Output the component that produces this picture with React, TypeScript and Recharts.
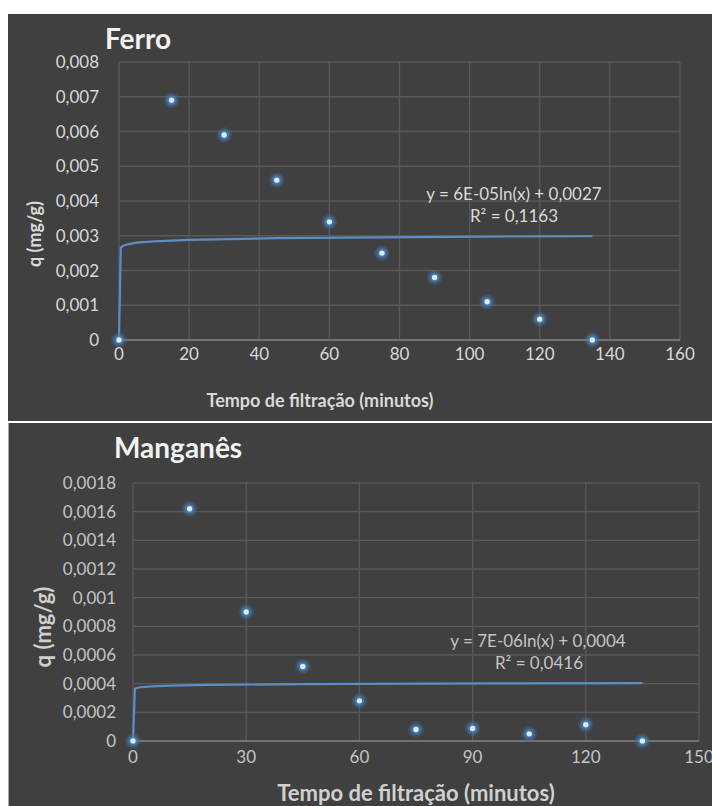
import { ComposedChart, Scatter, Line, XAxis, YAxis, CartesianGrid } from "recharts"

// tempo de filtração (min)
const tempo = [0, 15, 30, 45, 60, 75, 90, 105, 120, 135]

// q (mg/g) medido
const qFerro = [0, 0.0069, 0.0059, 0.0046, 0.0034, 0.0025, 0.0018, 0.0011, 0.0006, 0]
const qManganes = [0, 0.00162, 0.0009, 0.00052, 0.00028, 0.00008, 0.000087, 0.00005, 0.000114, 0]

// linha de tendência logarítmica
const tendX = [0, 0.5, 1, 2, 5, 10, 20, 45, 95, 135]
const tendFerro = [0, 0.00266, 0.0027, 0.00274, 0.0028, 0.00284, 0.00288, 0.00293, 0.00297, 0.00299]
const tendManganes = [0, 0.000365, 0.00037, 0.000375, 0.000381, 0.000386, 0.000391, 0.000397, 0.000402, 0.000404]

const ticksXFerro = [0, 20, 40, 60, 80, 100, 120, 140, 160]
const ticksYFerro = [0, 0.001, 0.002, 0.003, 0.004, 0.005, 0.006, 0.007, 0.008]
const ticksXManganes = [0, 30, 60, 90, 120, 150]
const ticksYManganes = [0, 0.0002, 0.0004, 0.0006, 0.0008, 0.001, 0.0012, 0.0014, 0.0016, 0.0018]

const toPoints = (xs: number[], ys: number[]) => xs.map((x, i) => ({ x, y: ys[i] }))

const BG = "#404040"
const GRID = "#595959"
const LINE = "#5b8ec4"
const FONT = "Lato, 'Open Sans', sans-serif"

const virgula = (v: number) => String(v).replace(".", ",")

// marcador com brilho azul (anéis translúcidos + ponto claro)
const Ponto = (props: any) => {
  const { cx, cy } = props
  if (cx == null || cy == null) return null
  return (
    <g>
      <circle cx={cx} cy={cy} r={8} fill="#3d6fa3" fillOpacity={0.25} />
      <circle cx={cx} cy={cy} r={6.5} fill="#4479b0" fillOpacity={0.35} />
      <circle cx={cx} cy={cy} r={4.8} fill="#5089c2" fillOpacity={0.5} />
      <circle cx={cx} cy={cy} r={2.7} fill="#d8ebfc" />
    </g>
  )
}

const Texto = ({ x, y, size, color, weight = 400, rotate = false, align = "center", children }: any) => (
  <div
    style={{
      position: "absolute",
      left: x,
      top: y,
      transform: `translate(${align === "left" ? "0" : "-50%"}, -50%)${rotate ? " rotate(-90deg)" : ""}`,
      fontFamily: FONT,
      fontSize: size,
      fontWeight: weight,
      color,
      lineHeight: 1,
      whiteSpace: "nowrap",
    }}
  >
    {children}
  </div>
)

const Grafico = ({ width, height, margin, pontos, tendencia, ticksX, ticksY, xMax, yMax, yWidth, xGap, yGap, tickColor }: any) => (
  <ComposedChart width={width} height={height} margin={margin}>
    <CartesianGrid stroke={GRID} strokeWidth={1.3} />
    <XAxis
      type="number"
      dataKey="x"
      domain={[0, xMax]}
      ticks={ticksX}
      interval={0}
      height={30}
      tickLine={false}
      tickSize={0}
      tickMargin={xGap}
      axisLine={{ stroke: "#7f7f7f", strokeWidth: 1.5 }}
      tick={{ fill: tickColor, fontSize: 17, fontFamily: FONT }}
    />
    <YAxis
      type="number"
      dataKey="y"
      domain={[0, yMax]}
      ticks={ticksY}
      interval={0}
      width={yWidth}
      tickLine={false}
      axisLine={false}
      tickSize={0}
      tickMargin={yGap}
      tickFormatter={virgula}
      tick={{ fill: tickColor, fontSize: 17, fontFamily: FONT }}
    />
    <Line
      data={tendencia}
      dataKey="y"
      type="linear"
      stroke={LINE}
      strokeWidth={2.2}
      dot={false}
      activeDot={false}
      isAnimationActive={false}
    />
    <Scatter data={pontos} dataKey="y" shape={Ponto} isAnimationActive={false} />
  </ComposedChart>
)

export default function App() {
  return (
    <div style={{ position: "relative", width: 712, height: 806, background: "#fff", overflow: "hidden" }}>
      <style>{"body{margin:0;overflow:hidden}"}</style>

      {/* Ferro */}
      <div style={{ position: "absolute", left: 8, top: 14, width: 704, height: 407, background: BG }}>
        <Grafico
          width={704}
          height={407}
          margin={{ top: 48, right: 32, bottom: 51, left: 51 }}
          pontos={toPoints(tempo, qFerro)}
          tendencia={toPoints(tendX, tendFerro)}
          ticksX={ticksXFerro}
          ticksY={ticksYFerro}
          xMax={160}
          yMax={0.008}
          yWidth={60}
          xGap={8}
          yGap={20}
          tickColor="#d9d9d9"
        />
        <Texto x={97} y={24} size={28} weight={700} color="#f2f2f2" align="left">Ferro</Texto>
        <Texto x={26} y={220} size={18} weight={700} color="#d9d9d9" rotate>q (mg/g)</Texto>
        <Texto x={312} y={386} size={18} weight={700} color="#d9d9d9">Tempo de filtração (minutos)</Texto>
        <Texto x={506} y={179} size={17} color="#d9d9d9">y = 6E-05ln(x) + 0,0027</Texto>
        <Texto x={506} y={201} size={17} color="#d9d9d9">R² = 0,1163</Texto>
      </div>

      {/* Manganês */}
      <div style={{ position: "absolute", left: 8, top: 423, width: 704, height: 383, background: BG, borderLeft: "1px solid #a8a8a8", boxSizing: "border-box" }}>
        <div style={{ position: "absolute", left: -1, top: 0 }}>
          <Grafico
            width={704}
            height={383}
            margin={{ top: 60, right: 13, bottom: 35, left: 55 }}
            pontos={toPoints(tempo, qManganes)}
            tendencia={toPoints(tendX, tendManganes)}
            ticksX={ticksXManganes}
            ticksY={ticksYManganes}
            xMax={150}
            yMax={0.0018}
            yWidth={70}
            xGap={10}
            yGap={17}
            tickColor="#c4c4c4"
          />
        </div>
        <Texto x={105} y={24} size={28} weight={700} color="#f2f2f2" align="left">Manganês</Texto>
        <Texto x={34} y={204} size={22} weight={700} color="#cfcfcf" rotate>q (mg/g)</Texto>
        <Texto x={407} y={370} size={22} weight={700} color="#d0d0d0">Tempo de filtração (minutos)</Texto>
        <Texto x={529} y={217} size={17} color="#c4c4c4">y = 7E-06ln(x) + 0,0004</Texto>
        <Texto x={530} y={239} size={17} color="#c4c4c4">R² = 0,0416</Texto>
      </div>
    </div>
  )
}
